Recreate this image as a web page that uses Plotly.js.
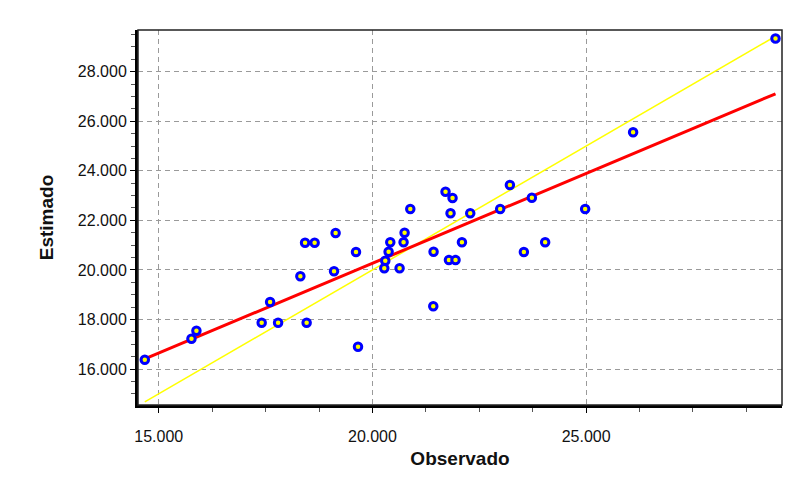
<!DOCTYPE html>
<html>
<head>
<meta charset="utf-8">
<script src="https://cdn.plot.ly/plotly-3.0.1.min.js"></script>
<style>
html,body{margin:0;padding:0;background:#fff;}
#chart{width:795px;height:484px;}
</style>
</head>
<body>
<div id="chart"></div>
<script>
var observado = [14673, 15765, 15881, 17408, 17605, 17792, 18460, 18313, 18423, 18647,
  19138, 19101, 19615, 19662, 20277, 20300, 20378, 20417, 20635, 20728,
  20752, 20885, 21430, 21423, 21710, 21874, 21827, 21790, 21944, 22094,
  22288, 22989, 23216, 23730, 23543, 24041, 24977, 26099, 29431];
var estimado = [16375, 17223, 17546, 17869, 18704, 17869, 17869, 19742, 21098, 21098,
  21489, 19943, 20723, 16900, 20065, 20371, 20735, 21114, 20065, 21114,
  21502, 22458, 20735, 18531, 23156, 22902, 22285, 20400, 20400, 21114,
  22285, 22458, 23427, 22914, 20723, 21114, 22458, 25554, 29340];
var xTicks = [15000, 20000, 25000];
var yTicks = [16000, 18000, 20000, 22000, 24000, 26000, 28000];

// least-squares regression of estimado on observado
var n = observado.length, sx = 0, sy = 0, sxx = 0, sxy = 0;
for (var i = 0; i < n; i++) {
  sx += observado[i]; sy += estimado[i];
  sxx += observado[i] * observado[i]; sxy += observado[i] * estimado[i];
}
var b = (n * sxy - sx * sy) / (n * sxx - sx * sx);
var a = (sy - b * sx) / n;
var xmin = Math.min.apply(null, observado), xmax = Math.max.apply(null, observado);

var identity = {
  x: [xmin, xmax], y: [xmin, xmax], mode: 'lines', type: 'scatter',
  line: {color: '#ffff00', width: 1.5}, hoverinfo: 'skip'
};
var regression = {
  x: [xmin, xmax], y: [a + b * xmin, a + b * xmax], mode: 'lines', type: 'scatter',
  line: {color: '#ff0000', width: 3}, hoverinfo: 'skip'
};
var points = {
  x: observado, y: estimado, mode: 'markers', type: 'scatter',
  marker: {symbol: 'circle', size: 7.5, color: '#ffff00', line: {color: '#0000ff', width: 3}}
};

var fontFam = 'Arial, "Liberation Sans", sans-serif';
var layout = {
  width: 795, height: 484,
  margin: {l: 138, r: 13, t: 30, b: 79},
  paper_bgcolor: '#ffffff', plot_bgcolor: '#ffffff',
  showlegend: false,
  separators: ',.',
  font: {family: fontFam, color: '#000', size: 16},
  xaxis: {
    range: [14514, 29583],
    tickvals: xTicks, tickformat: ',d',
    ticks: 'outside', ticklen: 5, tickwidth: 1, tickcolor: '#000',
    ticklabelstandoff: 10,
    minor: {dtick: 1250, tick0: 15000, ticks: 'outside', ticklen: 4, tickcolor: '#555', showgrid: false},
    showgrid: true, gridcolor: '#9a9a9a', griddash: '5px,4px', gridwidth: 1,
    zeroline: false, showline: true, linecolor: '#000', linewidth: 3,
    tickfont: {size: 16, family: fontFam, color: '#111'},
    title: {text: '<b>Observado</b>', font: {size: 19, family: fontFam, color: '#111'}, standoff: 8}
  },
  yaxis: {
    range: [14547, 29683],
    tickvals: yTicks, tickformat: ',d',
    ticks: 'outside', ticklen: 5, tickwidth: 1, tickcolor: '#000',
    minor: {dtick: 500, tick0: 16000, ticks: 'outside', ticklen: 4, tickcolor: '#555', showgrid: false},
    showgrid: true, gridcolor: '#9a9a9a', griddash: '5px,4px', gridwidth: 1,
    zeroline: false, showline: true, linecolor: '#000', linewidth: 3,
    tickfont: {size: 16, family: fontFam, color: '#111'},
    title: {text: '<b>Estimado</b>', font: {size: 19, family: fontFam, color: '#111'}, standoff: 20}
  },
  shapes: [{
    type: 'rect', xref: 'paper', yref: 'paper', x0: 0, x1: 1, y0: 0, y1: 1,
    line: {color: '#222', width: 1.5}, layer: 'above'
  }]
};

Plotly.newPlot('chart', [identity, regression, points], layout, {displayModeBar: false, staticPlot: true});
</script>
</body>
</html>
